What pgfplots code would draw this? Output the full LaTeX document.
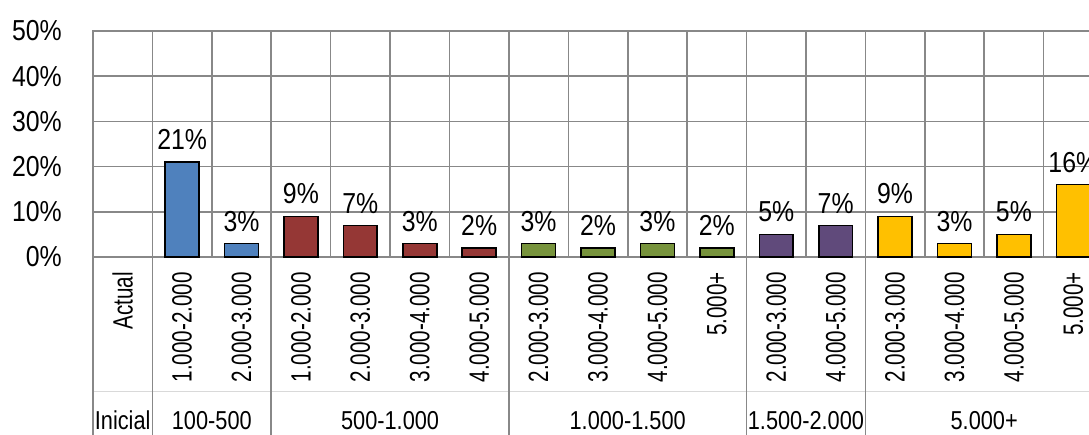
\documentclass[border=0pt]{standalone}
\usepackage{fontspec}
\setmainfont{Liberation Sans}[FakeStretch=0.86]
\newfontfamily\rotfont{Liberation Sans}[FakeStretch=0.74]
\newfontfamily\grpfont{Liberation Sans}[FakeStretch=0.84]
\usepackage{pgfplots}
\pgfplotsset{compat=1.18}

\definecolor{cblue}{HTML}{4F81BD}
\definecolor{cred}{HTML}{953735}
\definecolor{cgreen}{HTML}{77933C}
\definecolor{cpurple}{HTML}{604A7B}
\definecolor{cgold}{HTML}{FFC000}
\definecolor{gridgray}{HTML}{888888}
\definecolor{sepgray}{HTML}{D9D9D9}

\begin{document}
\begin{tikzpicture}[x=1bp,y=1bp]
\useasboundingbox (0,0) rectangle (1089,435);
\clip (0,0) rectangle (1089,435);
\begin{axis}[
  at={(93bp,178bp)}, anchor=south west,
  scale only axis, width=1010bp, height=226bp,
  xmin=-0.5, xmax=16.5, ymin=0, ymax=50,
  clip=false,
  axis line style={gridgray, line width=1.6bp},
  ybar, bar width=0.57,
  ytick={0,10,...,50},
  yticklabels={0\%,10\%,20\%,30\%,40\%,50\%},
  yticklabel style={font=\fontsize{29}{30}\selectfont, anchor=east, inner xsep=0pt, xshift=-31bp},
  xtick={0,...,16},
  xticklabels={Actual,1.000-2.000,2.000-3.000,1.000-2.000,2.000-3.000,3.000-4.000,4.000-5.000,2.000-3.000,3.000-4.000,4.000-5.000,5.000+,2.000-3.000,4.000-5.000,2.000-3.000,3.000-4.000,4.000-5.000,5.000+},
  xticklabel style={font=\rotfont\fontsize{28}{30}\selectfont, rotate=90, anchor=east, inner xsep=15bp, inner ysep=0pt},
  minor xtick={0.5,1.5,...,15.5},
  major tick length=0pt, minor tick length=0pt,
  tick style={draw=none},
  ymajorgrids, xminorgrids,
  grid style={gridgray, line width=1.6bp},
  minor grid style={gridgray, line width=1.6bp},
  /pgf/number format/assume math mode=true,
  nodes near coords={\pgfmathprintnumber{\pgfplotspointmeta}\%},
  every node near coord/.append style={font=\fontsize{29}{30}\selectfont, yshift=8bp, black},
]
\addplot[bar shift=0pt, fill=cblue, draw=black, line width=1.6bp] coordinates {(1,21) (2,3)};
\addplot[bar shift=0pt, fill=cred, draw=black, line width=1.6bp] coordinates {(3,9) (4,7) (5,3) (6,2)};
\addplot[bar shift=0pt, fill=cgreen, draw=black, line width=1.6bp] coordinates {(7,3) (8,2) (9,3) (10,2)};
\addplot[bar shift=0pt, fill=cpurple, draw=black, line width=1.6bp] coordinates {(11,5) (12,7)};
\addplot[bar shift=0pt, fill=cgold, draw=black, line width=1.6bp] coordinates {(13,9) (14,3) (15,5) (16,16)};

% separator between the two label rows
\draw[sepgray, line width=1bp] (axis cs:-0.5,-29.7) -- (axis cs:16.5,-29.7);
% group dividers below the axis
\pgfplotsinvokeforeach{-0.5,0.5,2.5,6.5,10.5,12.5}{
  \draw[gridgray, line width=1.6bp] (axis cs:#1,0) -- (axis cs:#1,-42);
}
% group names
\node[font=\grpfont\fontsize{26}{28}\selectfont] at (axis cs:0,-36.2) {Inicial};
\node[font=\grpfont\fontsize{26}{28}\selectfont] at (axis cs:1.5,-36.2) {100-500};
\node[font=\grpfont\fontsize{26}{28}\selectfont] at (axis cs:4.5,-36.2) {500-1.000};
\node[font=\grpfont\fontsize{26}{28}\selectfont] at (axis cs:8.5,-36.2) {1.000-1.500};
\node[font=\grpfont\fontsize{26}{28}\selectfont] at (axis cs:11.5,-36.2) {1.500-2.000};
\node[font=\grpfont\fontsize{26}{28}\selectfont] at (axis cs:14.5,-36.2) {5.000+};
\end{axis}
\end{tikzpicture}
\end{document}
